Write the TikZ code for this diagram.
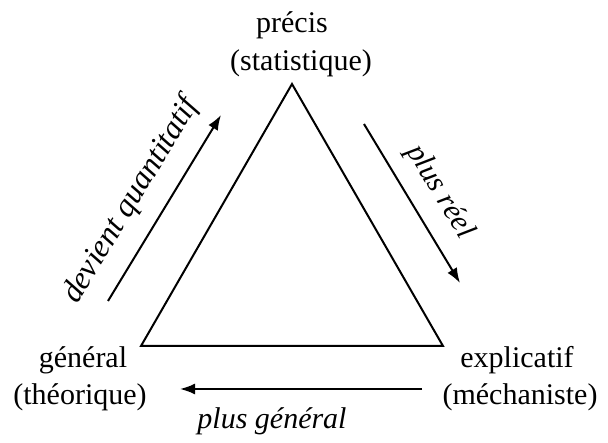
\documentclass[tikz,border=0pt]{standalone}
\usepackage{fontspec}
\setmainfont{Liberation Serif}
\usetikzlibrary{arrows.meta}
\begin{document}
\begin{tikzpicture}[x=1pt,y=-1pt,
  lbl/.style={font=\fontsize{30}{36}\selectfont, anchor=base, inner sep=0pt},
  ilbl/.style={font=\fontsize{30}{36}\selectfont\itshape, inner sep=0pt},
  edge/.style={line width=2pt, line join=miter},
  arr/.style={line width=2pt, -{Latex[length=15pt,width=11pt]}}]
\useasboundingbox (0,0) rectangle (608,443);
% triangle
\coordinate (T) at (292,84);
\coordinate (L) at (141,346);
\coordinate (R) at (443,346);
\draw[edge] (T) -- (R) -- (L) -- cycle;
% arrows
\coordinate (a1) at (108,301);
\coordinate (a2) at (221,115);
\draw[arr] (a1) -- (a2);
\coordinate (b1) at (364,124);
\coordinate (b2) at (460,283);
\draw[arr] (b1) -- (b2);
\coordinate (c1) at (422,389);
\coordinate (c2) at (180,389);
\draw[arr] (c1) -- (c2);
% arrow labels
\node[ilbl, font=\fontsize{32}{38}\selectfont\itshape, rotate=58.7] (dq) at (131,201) {devient quantitatif};
\node[ilbl, rotate=-58.9] (pr) at (440,192) {plus réel};
\node[ilbl] (pg) at (272,421) {plus général};
% vertex labels
\node[lbl] (t1) at (292,33) {précis};
\node[lbl] (t2) at (301,71) {(statistique)};
\node[lbl] (l1) at (83,368) {général};
\node[lbl] (l2) at (80,405) {(théorique)};
\node[lbl] (r1) at (517,368) {explicatif};
\node[lbl] (r2) at (520,405) {(méchaniste)};
\end{tikzpicture}
\end{document}
